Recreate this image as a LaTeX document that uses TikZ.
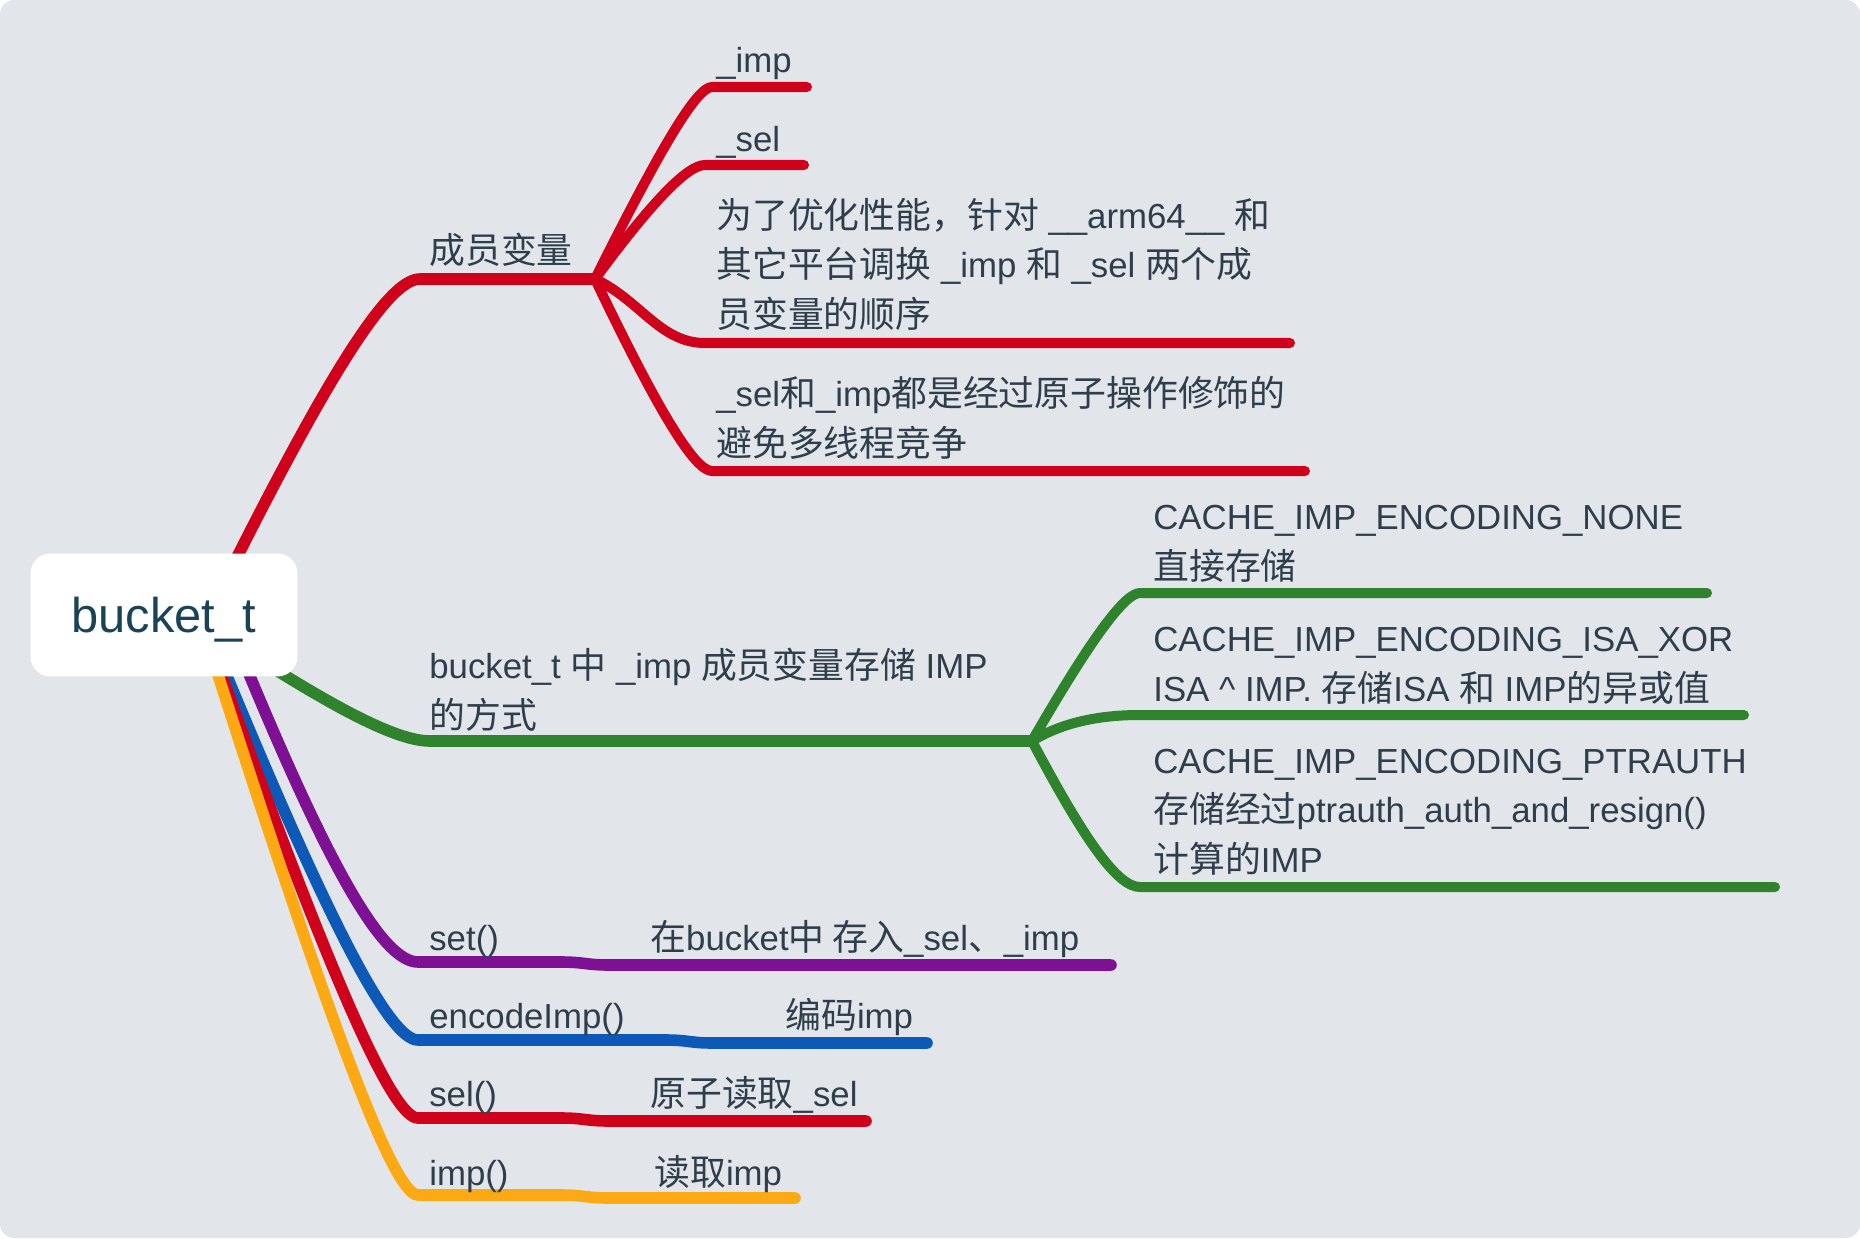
\documentclass[tikz,border=0pt]{standalone}
\usepackage{fontspec}
\setmainfont{Liberation Sans}
\newfontfamily\cjk{Noto Sans CJK SC}[Scale=1.03]
\usetikzlibrary{positioning,calc}

\definecolor{bg}{HTML}{E2E6EB}
\definecolor{txt}{HTML}{2F3E4B}
\definecolor{roottxt}{HTML}{1A4358}
\definecolor{bred}{HTML}{D0021B}
\definecolor{bgreen}{HTML}{2E832C}
\definecolor{bpurple}{HTML}{7E1094}
\definecolor{bblue}{HTML}{0C59B8}
\definecolor{borange}{HTML}{FCA914}

\tikzset{
  mainline/.style={line width=6.6pt, line cap=round},
  subline/.style={line width=5.7pt, line cap=round},
  % multi-line labels sit on the baseline of their last line
  lbl/.style={anchor=base west, inner sep=0pt, text=txt, align=left,
    font=\fontsize{19.8}{28.1}\selectfont},
  rootbox/.style={fill=white, rounded corners=0.4cm, minimum width=5.34cm,
    minimum height=2.46cm, text height=0.8cm, text depth=0.12cm,
    text=roottxt, font=\fontsize{27.8}{33}\selectfont},
}

\begin{document}
\begin{tikzpicture}[x=0.02cm, y=-0.02cm]
    \useasboundingbox (0,0) rectangle (1860,1238);
    \fill[bg, rounded corners=0.28cm] (0,0) rectangle (1860,1238);

    % branch points
    \coordinate (memS) at (228,575);
    \coordinate (memJ) at (595,279);
    \coordinate (encS) at (229,640);
    \coordinate (encJ) at (1032,741);
    \coordinate (setS) at (235,640);
    \coordinate (codeS) at (212,640);
    \coordinate (selS) at (209,640);
    \coordinate (impS) at (210,650);

    % ends of the lines
    \coordinate (impE) at (807,87);
    \coordinate (selE) at (804,165);
    \coordinate (perfE) at (1290,343);
    \coordinate (atomE) at (1305,471);
    \coordinate (noneE) at (1707,593);
    \coordinate (xorE) at (1744,715);
    \coordinate (authE) at (1775,887);
    \coordinate (setE) at (1111,965);
    \coordinate (codeE) at (927,1043);
    \coordinate (selfnE) at (866,1121);
    \coordinate (impfnE) at (795,1198);

    % 成员变量
    \draw[mainline, bred] (memS) .. controls (332,368) and (389,279) .. (420,279) -- (memJ);
    \draw[subline, bred] (memJ) .. controls (662,145) and (697,87) .. (712,87) -- (impE);
    \draw[subline, bred] (memJ) .. controls (654,199) and (688,165) .. (705,165) -- (selE);
    \draw[subline, bred] (memJ) .. controls (640,300) and (660,343) .. (705,343) -- (perfE);
    \draw[subline, bred] (memJ) .. controls (659,413) and (695,471) .. (712,471) -- (atomE);

    % IMP encoding
    \draw[mainline, bgreen] (encS) .. controls (338,711) and (398,741) .. (430,741) -- (encJ);
    \draw[subline, bgreen] (encJ) .. controls (1092,637) and (1125,593) .. (1140,593) -- (noneE);
    \draw[subline, bgreen] (encJ) .. controls (1060,724) and (1095,715) .. (1140,715) -- (xorE);
    \draw[subline, bgreen] (encJ) .. controls (1086,843) and (1118,887) .. (1140,887) -- (authE);

    % functions
    \draw[mainline, bpurple] (setS) .. controls (327,865) and (382,962) .. (418,962) -- (560,962)
        .. controls (585,962) and (585,965) .. (610,965) -- (setE);
    \draw[mainline, bblue] (codeS) .. controls (327,920) and (389,1040) .. (418,1040) -- (665,1040)
        .. controls (689,1040) and (689,1043) .. (713,1043) -- (codeE);
    \draw[mainline, bred] (selS) .. controls (329,975) and (392,1118) .. (418,1118) -- (560,1118)
        .. controls (585,1118) and (585,1121) .. (610,1121) -- (selfnE);
    \draw[mainline, borange] (impS) .. controls (332,1032) and (394,1195) .. (418,1195) -- (560,1195)
        .. controls (585,1195) and (585,1198) .. (610,1198) -- (impfnE);

    % root
    \node[rootbox] (root) at (164,615) {bucket\_t};

    % labels
    \node[lbl] (member) at (429,263) {{\cjk 成员变量}};
    \node[lbl] (imp) at (716,72) {\_imp};
    \node[lbl] (sel) at (716,151) {\_sel};
    \node[lbl] (perf) at (716,327) {{\cjk 为了优化性能，针对} \_\_arm64\_\_ {\cjk 和}\\
        {\cjk 其它平台调换} \_imp {\cjk 和} \_sel {\cjk 两个成}\\{\cjk 员变量的顺序}};
    \node[lbl] (atom) at (716,456) {\_sel{\cjk 和}\_imp{\cjk 都是经过原子操作修饰的}\\
        {\cjk 避免多线程竞争}};

    \node[lbl] (enc) at (429,728) {bucket\_t {\cjk 中} \_imp {\cjk 成员变量存储} IMP\\{\cjk 的方式}};
    \node[lbl] (none) at (1153,579) {CACHE\_IMP\_ENCODING\_NONE\\{\cjk 直接存储}};
    \node[lbl] (xor) at (1153,701) {CACHE\_IMP\_ENCODING\_ISA\_XOR\\
        ISA \textasciicircum{} IMP. {\cjk 存储}ISA {\cjk 和} IMP{\cjk 的异或值}};
    \node[lbl] (auth) at (1153,872) {CACHE\_IMP\_ENCODING\_PTRAUTH\\
        {\cjk 存储经过}ptrauth\_auth\_and\_resign()\\{\cjk 计算的}IMP};

    \node[lbl] (setfn) at (429,950) {set()};
    \node[lbl] (setnote) at (650,950) {{\cjk 在}bucket{\cjk 中 存入}\_sel{\cjk 、}\_imp};
    \node[lbl] (codefn) at (429,1028) {encodeImp()};
    \node[lbl] (codenote) at (785,1028) {{\cjk 编码}imp};
    \node[lbl] (selfn) at (429,1106) {sel()};
    \node[lbl] (selnote) at (650,1106) {{\cjk 原子读取}\_sel};
    \node[lbl] (impfn) at (429,1185) {imp()};
    \node[lbl] (impnote) at (654,1185) {{\cjk 读取}imp};
\end{tikzpicture}
\end{document}
